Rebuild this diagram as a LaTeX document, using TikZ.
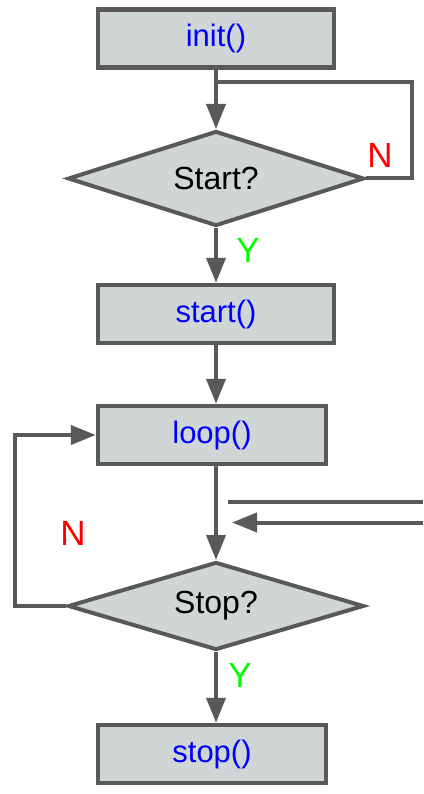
\documentclass[tikz,border=0pt]{standalone}
\usepackage{fontspec}
\setmainfont{Liberation Sans}
\usetikzlibrary{shapes.geometric,arrows.meta}

\definecolor{boxfill}{HTML}{D0D5D5}
\definecolor{edge}{HTML}{595959}
\definecolor{callblue}{HTML}{0000FF}
\definecolor{yesgreen}{HTML}{00FF00}
\definecolor{nored}{HTML}{FF0000}

\tikzset{
  stepbox/.style={rectangle, draw=edge, fill=boxfill, line width=4.5pt,
    minimum width=#1, minimum height=58pt, inner sep=0pt,
    text=callblue, font=\fontsize{31}{35}\selectfont},
  stepbox/.default=236pt,
  decision/.style={diamond, shape aspect=3.2, draw=edge, fill=boxfill,
    line width=4pt, minimum width=296pt, minimum height=#1, inner sep=0pt,
    text=black, font=\fontsize{32}{36}\selectfont},
  flow/.style={draw=edge, line width=4pt},
  arrowflow/.style={flow, -{Triangle[length=25pt,width=19pt]}},
  yes/.style={text=yesgreen, font=\fontsize{35}{39}\selectfont},
  no/.style={text=nored, font=\fontsize{35}{39}\selectfont},
}

\begin{document}
\begin{tikzpicture}[x=1pt, y=-1pt]
  \useasboundingbox (0,0) rectangle (423,794);

  % process steps and decisions
  \node[stepbox] (init) at (216,38.5) {init()};
  \node[decision=95pt] (startq) at (216,178.5) {Start?};
  \node[stepbox] (start) at (216,314) {start()};
  \node[stepbox=228pt] (loop) at (212,435) {loop()};
  \node[decision=88pt] (stopq) at (216,606) {Stop?};
  \node[stepbox=228pt] (stop) at (212,754) {stop()};

  % waiting loop around the start decision
  \coordinate (waitjoin) at (216,82);
  \coordinate (waitcorner) at (412,82);
  \draw[arrowflow] (init.south) -- (startq.north);
  \draw[flow] (startq.east) -| (waitcorner) -- (waitjoin);
  \node[no] at (380,155) {N};

  \draw[arrowflow] (startq.south) -- (start.north);
  \node[yes] at (248,250) {Y};

  \draw[arrowflow] (start.south) -- (start.south |- loop.north);
  \draw[arrowflow] (stopq.north |- loop.south) -- (stopq.north);

  % repeat loop back into loop()
  \draw[arrowflow] (stopq.west) -- ++(-51,0) |- (loop.west);
  \node[no] at (73,533) {N};

  \draw[arrowflow] (stopq.south) -- (stopq.south |- stop.north);
  \node[yes] at (240,675) {Y};

  % external lines coming in from the right
  \coordinate (extaout) at (228,502);
  \coordinate (extaend) at (423,502);
  \coordinate (extbstart) at (423,522.5);
  \coordinate (extbin) at (232,522.5);
  \draw[flow] (extaout) -- (extaend);
  \draw[arrowflow] (extbstart) -- (extbin);
\end{tikzpicture}
\end{document}
